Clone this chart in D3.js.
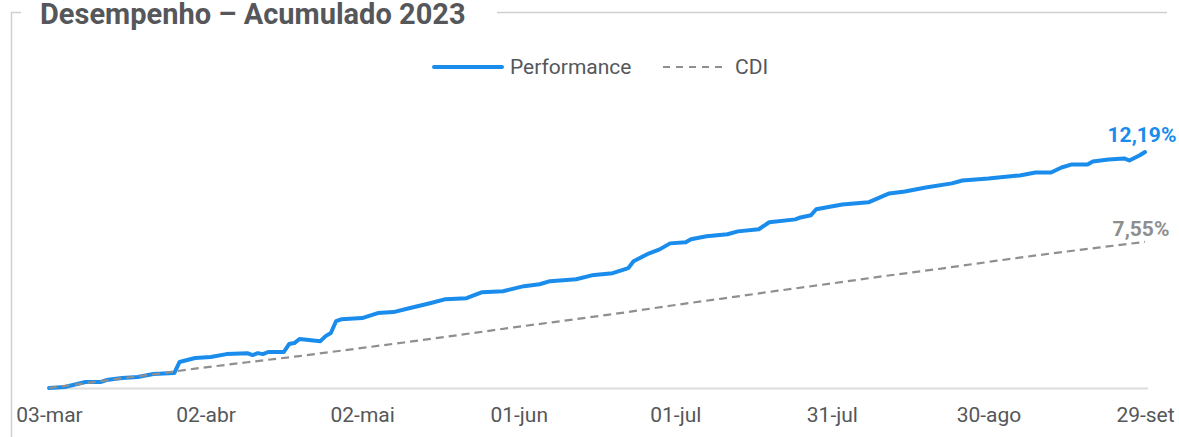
<!DOCTYPE html>
<html>
<head>
<meta charset="utf-8">
<script src="https://cdn.jsdelivr.net/npm/d3@7"></script>
<style>
  body { margin: 0; background: #fff; }
  text { font-family: Roboto, "Noto Sans", sans-serif; }
</style>
</head>
<body>
<div id="chart"></div>
<script>
// data (dates dd-mm of 2023, values in %)
var perfDates = ["03-03","06-03","10-03","13-03","14-03","17-03","20-03","23-03","27-03","28-03","31-03",
  "03-04","06-04","10-04","11-04","12-04","13-04","14-04","17-04","18-04","19-04","20-04","24-04","25-04","26-04","27-04","28-04",
  "02-05","05-05","08-05","11-05","15-05","18-05","22-05","25-05","29-05",
  "02-06","05-06","07-06","12-06","15-06","19-06","22-06","23-06","26-06","28-06","30-06",
  "03-07","04-07","07-07","11-07","13-07","17-07","19-07","24-07","25-07","27-07","28-07",
  "02-08","07-08","11-08","14-08","18-08","23-08","25-08","30-08",
  "05-09","08-09","11-09","13-09","15-09","18-09","19-09","22-09","25-09","26-09","28-09","29-09"];
var perfValues = [0, 0.05, 0.31, 0.31, 0.41, 0.52, 0.57, 0.72, 0.77, 1.34, 1.55,
  1.60, 1.75, 1.80, 1.70, 1.80, 1.75, 1.86, 1.86, 2.27, 2.32, 2.53, 2.42, 2.68, 2.84, 3.45, 3.55,
  3.61, 3.87, 3.92, 4.12, 4.38, 4.59, 4.64, 4.95, 5.00,
  5.26, 5.36, 5.52, 5.62, 5.82, 5.93, 6.19, 6.55, 6.96, 7.16, 7.47,
  7.53, 7.68, 7.84, 7.94, 8.09, 8.20, 8.56, 8.71, 8.81, 8.92, 9.23,
  9.48, 9.59, 10.05, 10.15, 10.36, 10.57, 10.72, 10.82,
  10.98, 11.13, 11.13, 11.39, 11.55, 11.55, 11.70, 11.80, 11.86, 11.75, 12.02, 12.19];

var cdiDates = ["03-03","10-03","17-03","24-03","31-03","10-04","20-04","28-04","10-05","19-05","31-05",
  "09-06","20-06","30-06","10-07","20-07","31-07","10-08","21-08","31-08","11-09","20-09","29-09"];
var cdiValues = [0, 0.25, 0.50, 0.74, 1.00, 1.33, 1.65, 1.93, 2.35, 2.68, 3.13,
  3.45, 3.85, 4.25, 4.62, 5.00, 5.40, 5.78, 6.17, 6.55, 6.95, 7.25, 7.55];

var tickDates = ["03-03","02-04","02-05","01-06","01-07","31-07","30-08","29-09"];
var seriesNames = ["Performance", "CDI"];
var endLabels = ["12,19%", "7,55%"];

var blue = "#1a8cec", gray = "#8f8f8f", gray2 = "#8e8e8e";

(function () {
  var width = 1179, height = 437;

  var parse = d3.timeParse("%d-%m-%Y");
  function toDate(s) { return parse(s + "-2023"); }

  var locale = d3.timeFormatLocale({
    dateTime: "%d/%m/%Y %H:%M:%S", date: "%d/%m/%Y", time: "%H:%M:%S",
    periods: ["AM", "PM"],
    days: ["domingo","segunda","terça","quarta","quinta","sexta","sábado"],
    shortDays: ["dom","seg","ter","qua","qui","sex","sáb"],
    months: ["janeiro","fevereiro","março","abril","maio","junho","julho","agosto","setembro","outubro","novembro","dezembro"],
    shortMonths: ["jan","fev","mar","abr","mai","jun","jul","ago","set","out","nov","dez"]
  });

  var perf = perfDates.map(function (d, i) { return { date: toDate(d), value: perfValues[i] }; });
  var cdi = cdiDates.map(function (d, i) { return { date: toDate(d), value: cdiValues[i] }; });

  var svg = d3.select("#chart")
    .append("svg")
    .attr("width", width)
    .attr("height", height);

  //frame
  svg.append("path")
    .attr("d", "M11.5,437 L11.5,12.5 L21,12.5 M497,12.5 L1167,12.5")
    .attr("fill", "none")
    .attr("stroke", "#cfcfcf")
    .attr("stroke-width", 1.5);

  svg.append("text")
    .attr("x", 40)
    .attr("y", 24)
    .attr("font-size", 29)
    .attr("font-weight", "bold")
    .attr("fill", "#55575a")
    .text("Desempenho – Acumulado 2023");

  //scales
  var xPositionScale = d3.scaleTime()
    .domain([toDate("03-03"), toDate("29-09")])
    .range([49, 1145]);

  var yPositionScale = d3.scaleLinear()
    .domain([0, 12.19])
    .range([388, 152]);

  //axis
  var xAxis = d3.axisBottom(xPositionScale)
    .tickValues(tickDates.map(toDate))
    .tickFormat(locale.format("%d-%b"))
    .tickSize(0)
    .tickPadding(0);

  var axisG = svg.append("g")
    .attr("class", "axis x-axis")
    .attr("transform", "translate(0," + yPositionScale(0) + ")")
    .call(xAxis);
  axisG.select(".domain").remove();
  axisG.selectAll("text")
    .attr("y", 34)
    .attr("dy", null)
    .attr("font-size", 21)
    .attr("font-family", "Roboto, sans-serif")
    .attr("fill", "#55575a");

  svg.append("line")
    .attr("x1", xPositionScale.range()[0] - 1)
    .attr("x2", xPositionScale.range()[1] + 3)
    .attr("y1", yPositionScale(0) + 0.5)
    .attr("y2", yPositionScale(0) + 0.5)
    .attr("stroke", "#dcdcdc")
    .attr("stroke-width", 2);

  var line = d3.line()
    .x(function (d) { return xPositionScale(d.date); })
    .y(function (d) { return yPositionScale(d.value); });

  svg.append("path")
    .datum(perf)
    .attr("d", line)
    .attr("fill", "none")
    .attr("stroke", blue)
    .attr("stroke-width", 4)
    .attr("stroke-linejoin", "round")
    .attr("stroke-linecap", "round");

  svg.append("path")
    .datum(cdi)
    .attr("d", line)
    .attr("fill", "none")
    .attr("stroke", gray)
    .attr("stroke-width", 2.2)
    .attr("stroke-dasharray", "8,5");

  //end labels
  var lastP = perf[perf.length - 1], lastC = cdi[cdi.length - 1];
  svg.append("text")
    .attr("x", xPositionScale(lastP.date) - 3)
    .attr("y", yPositionScale(lastP.value) - 10)
    .attr("text-anchor", "middle")
    .attr("font-size", 21)
    .attr("font-weight", "bold")
    .attr("fill", blue)
    .text(endLabels[0]);
  svg.append("text")
    .attr("x", xPositionScale(lastC.date) - 4)
    .attr("y", yPositionScale(lastC.value) - 6)
    .attr("text-anchor", "middle")
    .attr("font-size", 21)
    .attr("font-weight", "bold")
    .attr("fill", gray2)
    .text(endLabels[1]);

  //legend
  var legend = svg.append("g").attr("transform", "translate(0,67)");
  legend.append("line")
    .attr("x1", 434).attr("x2", 502)
    .attr("stroke", blue).attr("stroke-width", 4).attr("stroke-linecap", "round");
  legend.append("text")
    .attr("x", 510).attr("dy", "0.35em")
    .attr("font-size", 21).attr("fill", "#55575a")
    .text(seriesNames[0]);
  legend.append("line")
    .attr("x1", 663).attr("x2", 723)
    .attr("stroke", gray).attr("stroke-width", 2).attr("stroke-dasharray", "7,6");
  legend.append("text")
    .attr("x", 735).attr("dy", "0.35em")
    .attr("font-size", 21).attr("fill", "#55575a")
    .text(seriesNames[1]);
})()
</script>
</body>
</html>
